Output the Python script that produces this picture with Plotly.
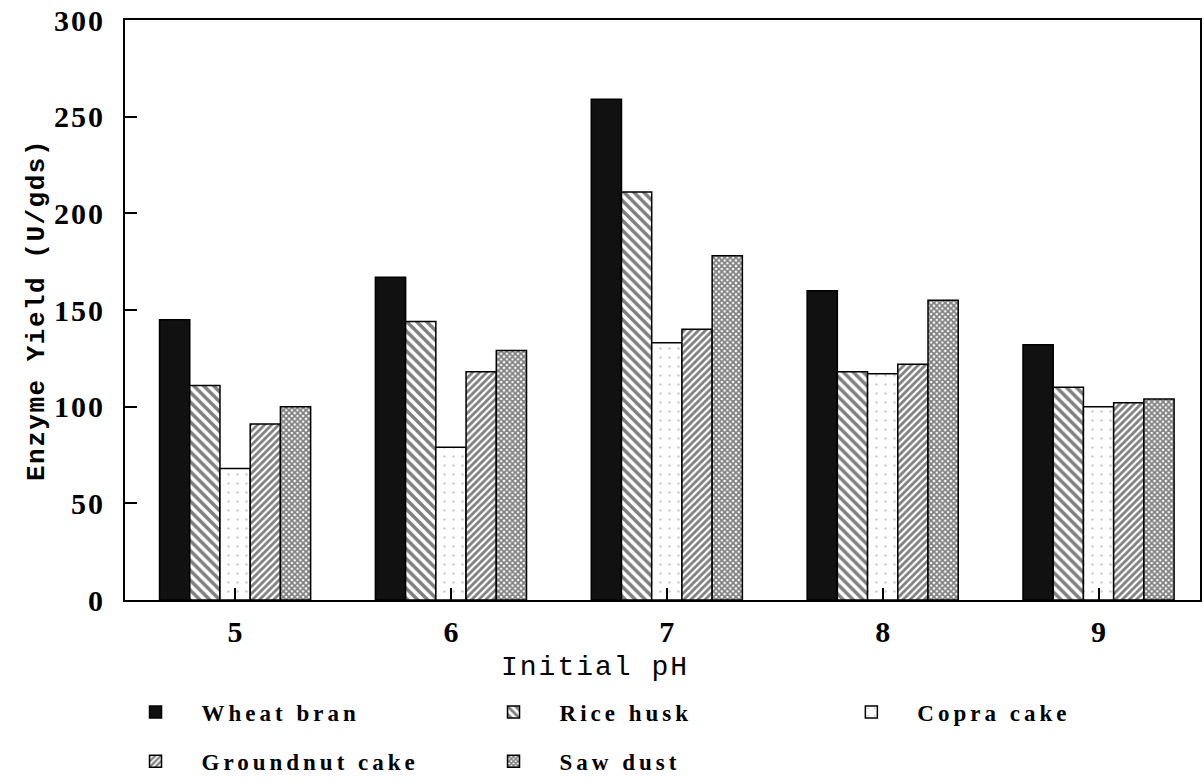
import plotly.graph_objects as go

# Enzyme yield (U/gds) by initial pH for each solid substrate
ph_values = [5, 6, 7, 8, 9]
wheat_bran = [145, 167, 259, 160, 132]
rice_husk = [111, 144, 211, 118, 110]
copra_cake = [68, 79, 133, 117, 100]
groundnut_cake = [91, 118, 140, 122, 102]
saw_dust = [100, 129, 178, 155, 104]
y_ticks = [0, 50, 100, 150, 200, 250, 300]

SERIF = "Liberation Serif"
MONO = "Liberation Mono"


def spaced(text, px):
    return f'<span style="letter-spacing:{px}px">{text}</span>'


series = [
    ("Wheat bran", wheat_bran, dict(color="#111111"), "legend"),
    ("Rice husk", rice_husk,
     dict(color="white", pattern=dict(shape="\\", size=7, solidity=0.5,
                                      fgcolor="black", bgcolor="white")), "legend"),
    ("Copra cake", copra_cake,
     dict(color="white", pattern=dict(shape=".", size=9, solidity=0.06,
                                      fgcolor="#9a9a9a", bgcolor="white")), "legend3"),
    ("Groundnut cake", groundnut_cake,
     dict(color="white", pattern=dict(shape="/", size=5, solidity=0.55,
                                      fgcolor="black", bgcolor="white")), "legend2"),
    ("Saw dust", saw_dust,
     dict(color="white", pattern=dict(shape="x", size=4, solidity=0.7,
                                      fgcolor="black", bgcolor="white")), "legend2"),
]

fig = go.Figure()
for name, vals, marker, leg in series:
    marker = dict(marker)
    marker["line"] = dict(color="black", width=1.5)
    fig.add_trace(go.Bar(
        x=ph_values, y=vals, name=spaced(name, 4),
        marker=marker, legend=leg,
    ))

legend_common = dict(
    orientation="h", xanchor="left", yanchor="middle",
    entrywidth=261, entrywidthmode="pixels", itemwidth=82,
    font=dict(family=SERIF, size=23, color="black", weight="bold"),
    bgcolor="rgba(0,0,0,0)", itemclick=False, traceorder="normal",
)

fig.update_layout(
    width=1204, height=784, autosize=False,
    margin=dict(l=125, r=4, t=20, b=184, autoexpand=False),
    paper_bgcolor="white", plot_bgcolor="white",
    barmode="group", bargap=0.3, bargroupgap=0,
    legend=dict(legend_common, x=-0.0144, y=-0.1934),
    legend2=dict(legend_common, x=-0.0144, y=-0.278),
    legend3=dict(legend_common, x=0.6515, y=-0.1934),
    xaxis=dict(
        range=[4.49, 9.47], tickvals=ph_values,
        ticktext=[str(v) for v in ph_values],
        ticks="inside", ticklen=12, tickwidth=2, tickcolor="black",
        showline=True, linecolor="black", linewidth=2, mirror=True,
        showgrid=False, zeroline=False, ticklabelstandoff=4,
        automargin=False,
        tickfont=dict(family=SERIF, size=30, color="black", weight="bold"),
    ),
    yaxis=dict(
        range=[0, 300], tickvals=y_ticks,
        ticktext=[spaced(str(v), 2) for v in y_ticks],
        ticks="inside", ticklen=12, tickwidth=2, tickcolor="black",
        showline=True, linecolor="black", linewidth=2, mirror=True,
        showgrid=False, zeroline=False, ticklabelstandoff=12,
        automargin=False,
        tickfont=dict(family=SERIF, size=30, color="black", weight="bold"),
        title=dict(text=spaced("Enzyme Yield (U/gds)", 1.5), standoff=2,
                   font=dict(family=MONO, size=26, color="black", weight="bold")),
    ),
    annotations=[dict(
        text=spaced("Initial pH", 2), xref="paper", yref="paper",
        x=0.437, y=-0.117, xanchor="center", yanchor="middle",
        showarrow=False,
        font=dict(family=MONO, size=28, color="black"),
    )],
)

fig.write_html("out.html")
